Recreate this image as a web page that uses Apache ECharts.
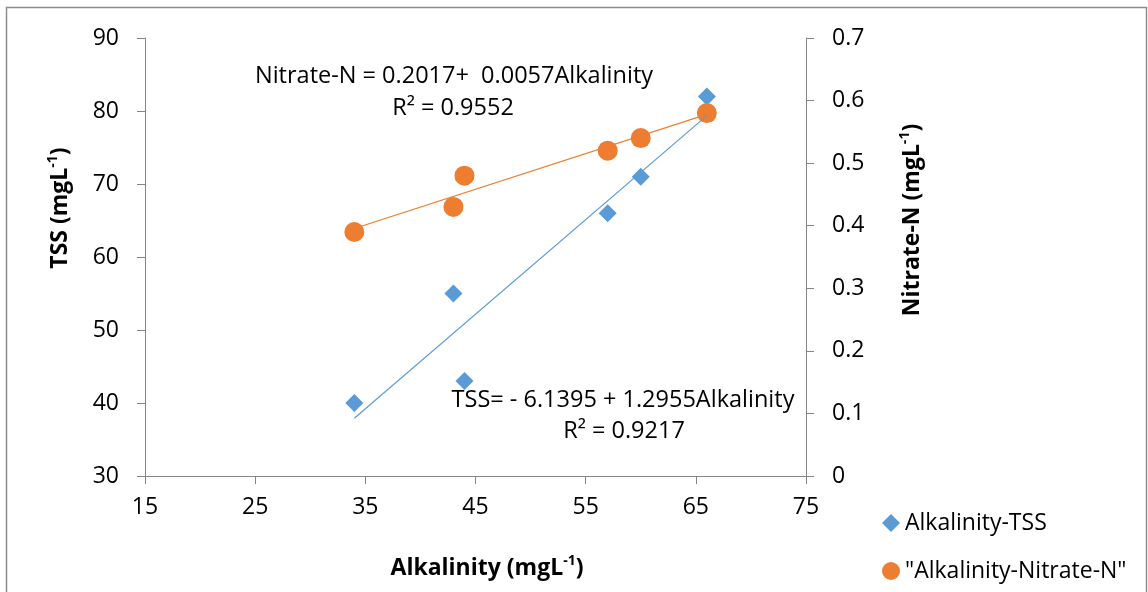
<!DOCTYPE html>
<html>
<head>
<meta charset="utf-8">
<script src="https://cdn.jsdelivr.net/npm/echarts@6/dist/echarts.min.js"></script>
<style>
  html, body { margin: 0; padding: 0; background: #fff; }
  #chart { width: 1148px; height: 592px; }
</style>
</head>
<body>
<div id="chart"></div>
<script>
// Alkalinity (mg/L) against TSS and Nitrate-N, with linear fits
const alkalinity = [34, 43, 44, 57, 60, 66];
const tss        = [40, 55, 43, 66, 71, 82];
const nitrateN   = [0.39, 0.43, 0.48, 0.52, 0.54, 0.58];

// Fitted lines: y = intercept + slope * x, drawn over the data range
const tssFit     = { intercept: -6.1395, slope: 1.2955 };
const nitrateFit = { intercept: 0.2017,  slope: 0.0057 };
const fitRange   = [34, 66];

const xTicks = { min: 15, max: 75, interval: 10 };
const yLeft  = { min: 30, max: 90, interval: 10 };
const yRight = { min: 0,  max: 0.7, interval: 0.1 };

const seriesNames = ['Alkalinity-TSS', '"Alkalinity-Nitrate-N"'];
const tssEquation = ['TSS= - 6.1395 + 1.2955Alkalinity', 'R² = 0.9217'];
const nitrateEquation = ['Nitrate-N = 0.2017+  0.0057Alkalinity', 'R² = 0.9552'];

const BLUE = '#5B9BD5';
const ORANGE = '#ED7D31';
const AXIS = '#868686';
const FONT = '"Open Sans", "Noto Sans", sans-serif';

const pairs = (xs, ys) => xs.map((x, i) => [x, ys[i]]);
const fitLine = f => fitRange.map(x => [x, f.intercept + f.slope * x]);

const chart = echarts.init(document.getElementById('chart'), null, { renderer: 'canvas' });

const axisCommon = {
  axisLine: { show: true, lineStyle: { color: AXIS, width: 1 } },
  axisTick: { show: true, inside: false, length: 8, lineStyle: { color: AXIS } },
  splitLine: { show: false },
  axisLabel: { color: '#000', fontSize: 23, fontFamily: FONT }
};

const titleRich = {
  b: { fontSize: 23, fontWeight: 'bold', fontFamily: FONT, fill: '#000', color: '#000' },
  s: { fontSize: 14, fontWeight: 'bold', fontFamily: FONT, fill: '#000', color: '#000', padding: [0, 0, 14, 0] }
};

function textEl(x, y, text, extra) {
  return Object.assign({
    type: 'text', x: x, y: y, silent: true,
    style: {
      text: text, fill: '#000',
      font: '23.5px ' + FONT,
      textAlign: 'center', textVerticalAlign: 'middle',
      align: 'center', verticalAlign: 'middle'
    }
  }, extra || {});
}

function titleEl(x, y, main, rotation) {
  return {
    type: 'text', x: x, y: y, rotation: rotation || 0, silent: true,
    style: {
      text: '{b|' + main + ' (mgL}{s|-1}{b|)}',
      rich: titleRich,
      textAlign: 'center', textVerticalAlign: 'middle',
      align: 'center', verticalAlign: 'middle'
    }
  };
}

chart.setOption({
  animation: false,
  backgroundColor: '#fff',
  grid: { left: 145, right: 342, top: 38, bottom: 116, containLabel: false },
  xAxis: Object.assign({}, axisCommon, {
    type: 'value', min: xTicks.min, max: xTicks.max, interval: xTicks.interval,
    axisLabel: Object.assign({}, axisCommon.axisLabel, { margin: 20 })
  }),
  yAxis: [
    Object.assign({}, axisCommon, {
      type: 'value', position: 'left',
      min: yLeft.min, max: yLeft.max, interval: yLeft.interval,
      axisLabel: Object.assign({}, axisCommon.axisLabel, { margin: 26 })
    }),
    Object.assign({}, axisCommon, {
      type: 'value', position: 'right',
      min: yRight.min, max: yRight.max, interval: yRight.interval,
      axisLabel: Object.assign({}, axisCommon.axisLabel, {
        margin: 26,
        formatter: v => (Math.round(v * 10) / 10).toString()
      })
    })
  ],
  legend: {
    orient: 'vertical',
    left: 877, top: 505,
    itemWidth: 18, itemHeight: 18,
    itemGap: 22,
    selectedMode: false,
    data: seriesNames,
    textStyle: { color: '#000', fontSize: 23, fontFamily: FONT, lineHeight: 26 }
  },
  series: [
    {
      name: seriesNames[0], type: 'scatter', yAxisIndex: 0,
      symbol: 'diamond', symbolSize: 18,
      itemStyle: { color: BLUE, opacity: 1 },
      data: pairs(alkalinity, tss), z: 2
    },
    {
      name: seriesNames[1], type: 'scatter', yAxisIndex: 1,
      symbol: 'circle', symbolSize: 20,
      itemStyle: { color: ORANGE, opacity: 1 },
      data: pairs(alkalinity, nitrateN), z: 3
    },
    {
      name: 'nitrate-fit', type: 'line', yAxisIndex: 1,
      data: fitLine(nitrateFit), showSymbol: false, symbol: 'none',
      lineStyle: { color: ORANGE, width: 1.2 }, z: 4, silent: true
    },
    {
      name: 'tss-fit', type: 'line', yAxisIndex: 0,
      data: fitLine(tssFit), showSymbol: false, symbol: 'none',
      lineStyle: { color: BLUE, width: 1.2 }, z: 5, silent: true
    }
  ],
  graphic: [
    {
      type: 'rect', silent: true, z: -1,
      shape: { x: 6.5, y: 7.5, width: 1140, height: 620 },
      style: { fill: null, stroke: '#8c8c8c', lineWidth: 1.5 }
    },
    textEl(454, 76, nitrateEquation[0]),
    textEl(453, 108, nitrateEquation[1]),
    textEl(623, 400, tssEquation[0]),
    textEl(624, 431, tssEquation[1]),
    titleEl(60, 208, 'TSS', Math.PI / 2),
    titleEl(912, 220, 'Nitrate-N', Math.PI / 2),
    titleEl(487, 568, 'Alkalinity', 0)
  ]
});
</script>
</body>
</html>
